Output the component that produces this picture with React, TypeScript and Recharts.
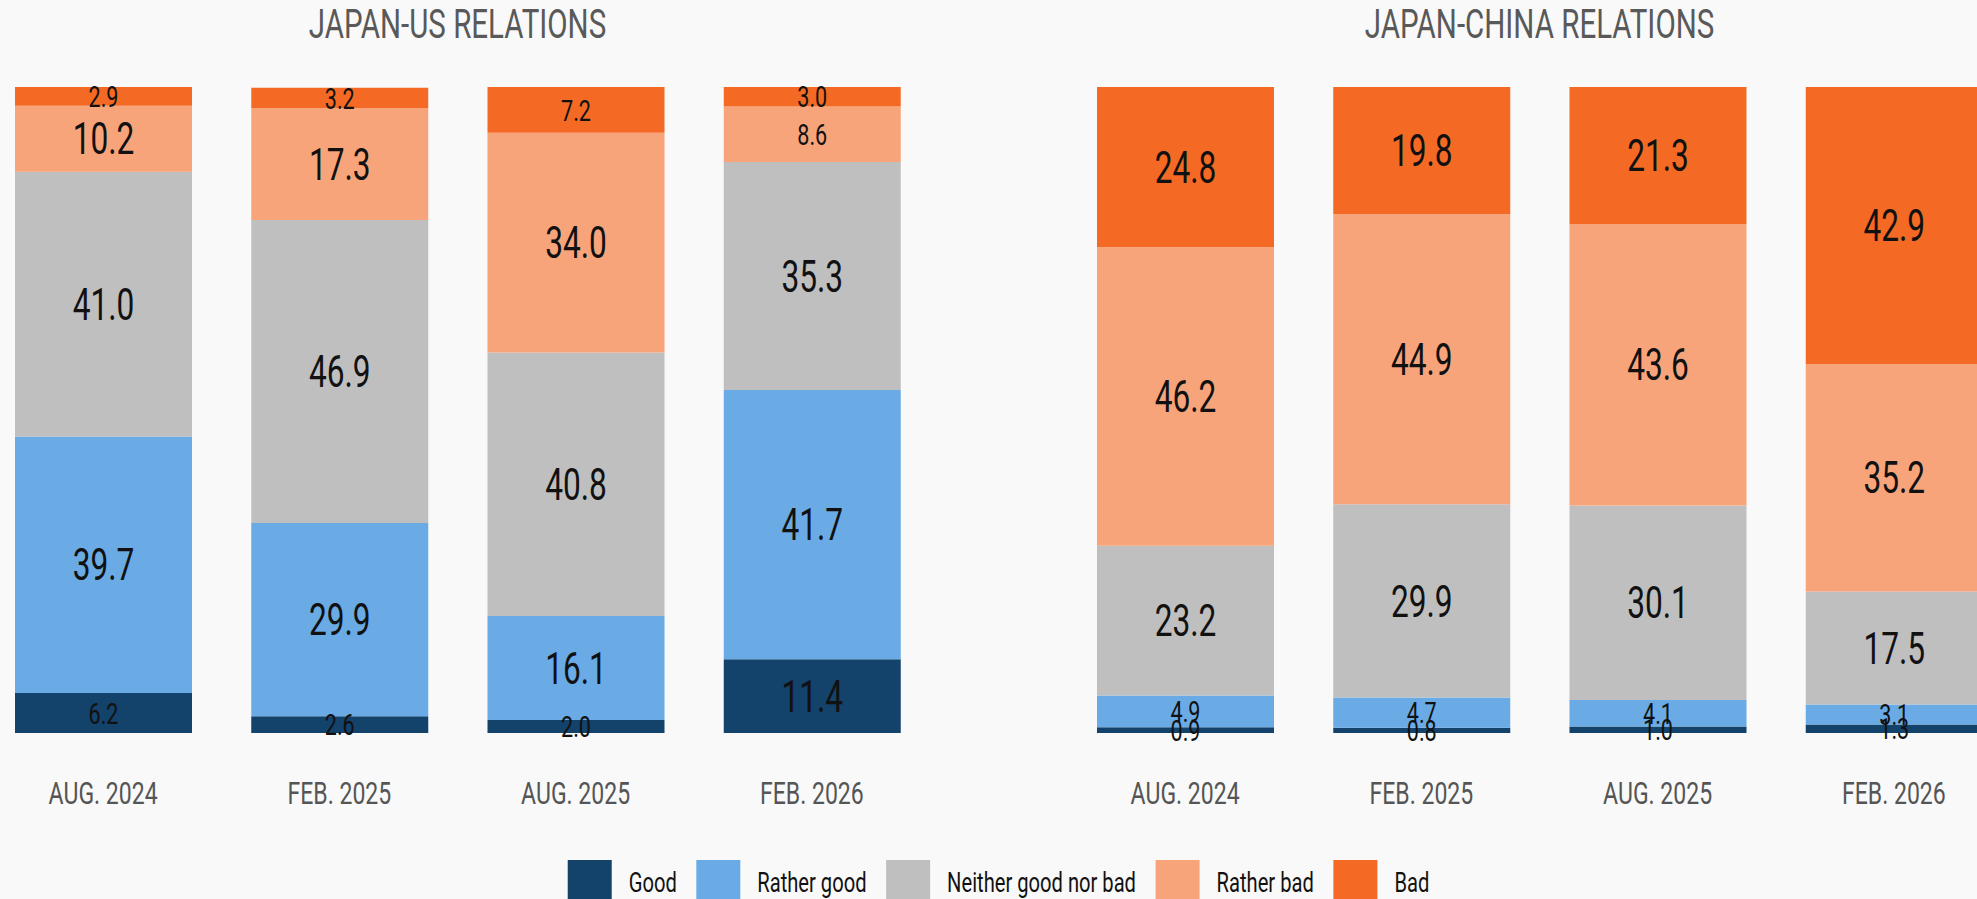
import React, { useMemo } from 'react';
import { BarChart, Bar, XAxis, YAxis, LabelList } from 'recharts';

// ---- data ----
const periods = ['AUG. 2024', 'FEB. 2025', 'AUG. 2025', 'FEB. 2026'];
const seriesKeys = ['good', 'ratherGood', 'neither', 'ratherBad', 'bad'];
const seriesNames = ['Good', 'Rather good', 'Neither good nor bad', 'Rather bad', 'Bad'];
const seriesColors = ['#13426B', '#6AABE6', '#BFBFBF', '#F8A47B', '#F46A25'];

const usGood = [6.2, 2.6, 2.0, 11.4];
const usRatherGood = [39.7, 29.9, 16.1, 41.7];
const usNeither = [41.0, 46.9, 40.8, 35.3];
const usRatherBad = [10.2, 17.3, 34.0, 8.6];
const usBad = [2.9, 3.2, 7.2, 3.0];

const cnGood = [0.9, 0.8, 1.0, 1.3];
const cnRatherGood = [4.9, 4.7, 4.1, 3.1];
const cnNeither = [23.2, 29.9, 30.1, 17.5];
const cnRatherBad = [46.2, 44.9, 43.6, 35.2];
const cnBad = [24.8, 19.8, 21.3, 42.9];

const titles = ['JAPAN-US RELATIONS', 'JAPAN-CHINA RELATIONS'];

const buildRows = (cols: number[][]) =>
  periods.map((p, i) => {
    const row: any = { period: p };
    seriesKeys.forEach((k, j) => {
      row[k] = cols[j][i];
    });
    return row;
  });

const usRows = buildRows([usGood, usRatherGood, usNeither, usRatherBad, usBad]);
const cnRows = buildRows([cnGood, cnRatherGood, cnNeither, cnRatherBad, cnBad]);

// ---- style ----
const FONT = "Roboto, 'Liberation Sans', sans-serif";
const SX = 0.72;
const CHART_W = 945;
const CHART_H = 830;
const PANEL_LEFTS = [-15, 1067];

const renderLabel = (props: any) => {
  const vb = props.viewBox && props.viewBox.width != null ? props.viewBox : props;
  const x = Number(vb.x);
  const y = Number(vb.y);
  const w = Number(vb.width);
  const h = Number(vb.height);
  const v = Number(props.value);
  if (!isFinite(v) || !isFinite(x) || !isFinite(y)) return null;
  const fs = v >= 10 ? 44 : 30;
  const cx = x + w / 2;
  const cy = y + h / 2 + 0.355 * fs;
  return (
    <text
      transform={`translate(${cx},${cy}) scale(${SX},1)`}
      textAnchor="middle"
      fontFamily={FONT}
      fontSize={fs}
      fill="#111"
    >
      {v.toFixed(1)}
    </text>
  );
};

const renderTick = (props: any) => {
  const { x, y, payload } = props;
  return (
    <text
      transform={`translate(${x},${Number(y) + 71}) scale(${SX},1)`}
      textAnchor="middle"
      fontFamily={FONT}
      fontSize={32}
      fill="#555"
    >
      {payload.value}
    </text>
  );
};

function Panel({ data, left }: { data: any[]; left: number }) {
  return (
    <div style={{ position: 'absolute', left, top: 0 }}>
      <BarChart
        width={CHART_W}
        height={CHART_H}
        data={data}
        margin={{ top: 87, right: 0, bottom: 37, left: 0 }}
        barSize={177}
      >
        <XAxis
          dataKey="period"
          axisLine={false}
          tickLine={false}
          tickSize={0}
          tickMargin={0}
          height={60}
          interval={0}
          tick={renderTick}
          padding={{ left: 0, right: 0 }}
        />
        <YAxis hide type="number" domain={[0, 100]} allowDataOverflow />
        {seriesKeys.map((k, i) => (
          <Bar
            key={k}
            dataKey={k}
            name={seriesNames[i]}
            stackId="s"
            fill={seriesColors[i]}
            isAnimationActive={false}
          >
            <LabelList dataKey={k} content={renderLabel} />
          </Bar>
        ))}
      </BarChart>
    </div>
  );
}

function Overlay() {
  const widths = useMemo(() => {
    let ctx: CanvasRenderingContext2D | null = null;
    try {
      ctx = document.createElement('canvas').getContext('2d');
    } catch (e) {
      ctx = null;
    }
    return seriesNames.map((n) => {
      if (ctx) {
        ctx.font = `28px ${FONT}`;
        return ctx.measureText(n).width * SX;
      }
      return n.length * 28 * 0.5 * SX;
    });
  }, []);
  const SW = 44;
  const GAP_TXT = 17;
  const GAP_ITEM = 19.5;
  const total = widths.reduce((a, w) => a + SW + GAP_TXT + w, 0) + GAP_ITEM * (widths.length - 1);
  const center = (PANEL_LEFTS[0] + PANEL_LEFTS[1] + CHART_W) / 2;
  let x = center - total / 2;
  const items = widths.map((w, i) => {
    const item = { x, w, i };
    x += SW + GAP_TXT + w + GAP_ITEM;
    return item;
  });
  return (
    <svg
      width={1977}
      height={899}
      style={{ position: 'absolute', left: 0, top: 0, pointerEvents: 'none' }}
    >
      {titles.map((t, i) => (
        <text
          key={t}
          transform={`translate(${PANEL_LEFTS[i] + CHART_W / 2},38) scale(${SX},1)`}
          textAnchor="middle"
          fontFamily={FONT}
          fontSize={41}
          fill="#595959"
        >
          {t}
        </text>
      ))}
      {items.map((it) => (
        <g key={it.i}>
          <rect x={it.x} y={860} width={SW} height={SW} fill={seriesColors[it.i]} />
          <text
            transform={`translate(${it.x + SW + GAP_TXT},892) scale(${SX},1)`}
            fontFamily={FONT}
            fontSize={28}
            fill="#111"
          >
            {seriesNames[it.i]}
          </text>
        </g>
      ))}
    </svg>
  );
}

export default function App() {
  return (
    <div
      style={{
        position: 'absolute',
        left: 0,
        top: 0,
        width: 1977,
        height: 899,
        overflow: 'hidden',
        background: '#F9F9F9',
      }}
    >
      <Panel data={usRows} left={PANEL_LEFTS[0]} />
      <Panel data={cnRows} left={PANEL_LEFTS[1]} />
      <Overlay />
    </div>
  );
}
